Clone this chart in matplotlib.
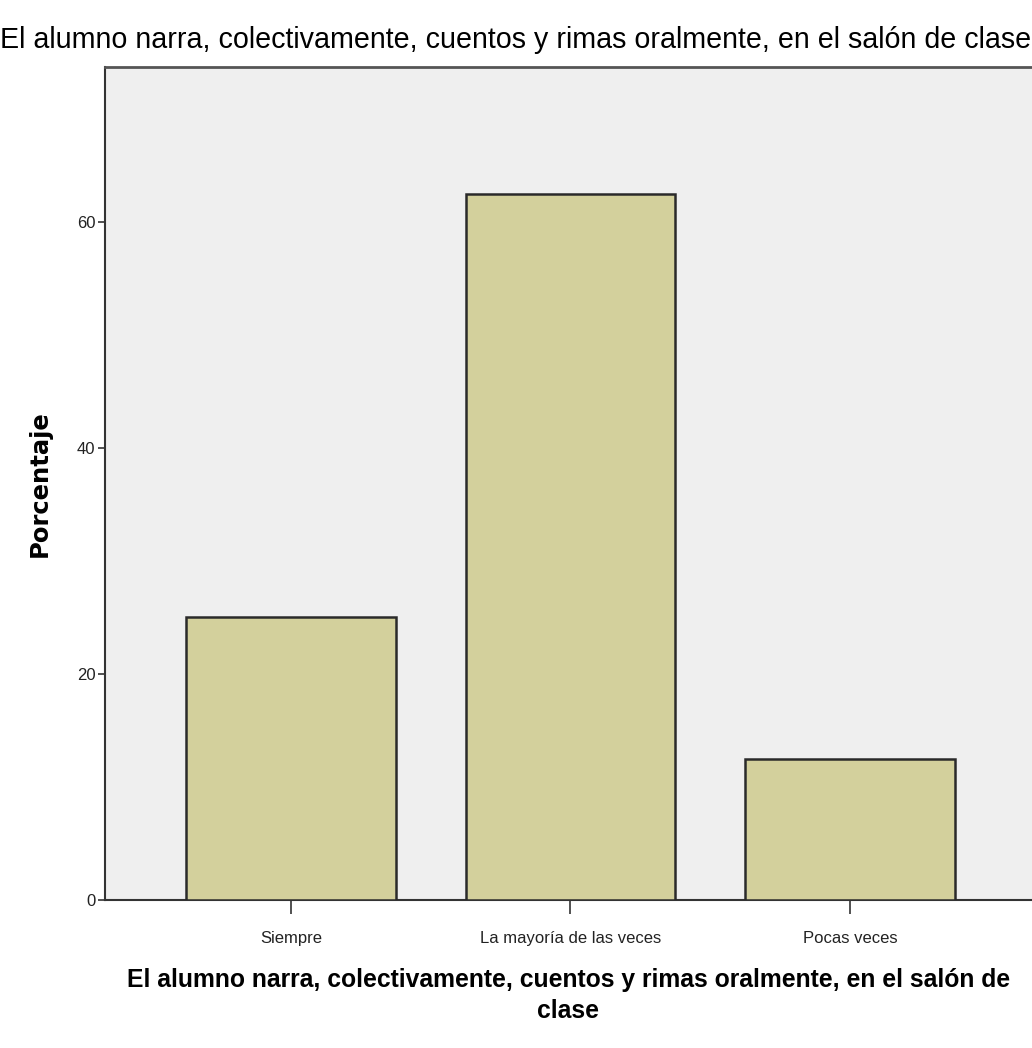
import matplotlib.pyplot as plt

# data
categorias = ['Siempre', 'La mayoría de las veces', 'Pocas veces']
porcentaje = [25.0, 62.5, 12.5]
yticks = [0, 20, 40, 60]
titulo = 'El alumno narra, colectivamente, cuentos y rimas oralmente, en el salón de clase'
xlabel = 'El alumno narra, colectivamente, cuentos y rimas oralmente, en el salón de\nclase'

narrow = ['Liberation Sans Narrow', 'Liberation Sans', 'DejaVu Sans']

fig = plt.figure(figsize=(10.32, 10.48), dpi=100)
ax = fig.add_axes([105 / 1032, 148 / 1048, 927 / 1032, 833 / 1048])
ax.set_facecolor('#efefef')

x = list(range(len(categorias)))
ax.bar(x, porcentaje, width=0.75, color='#d3d09c', edgecolor='#2a2a2a', linewidth=1.8, zorder=3)

ax.set_xlim(-0.665, 2.651)
ax.set_ylim(0, 73.7)
ax.set_yticks(yticks)
ax.set_yticklabels([str(t) for t in yticks], family=narrow, fontsize=12, color='#222222')
ax.set_xticks(x)
ax.set_xticklabels(categorias, family=narrow, fontsize=12, color='#222222')
ax.tick_params(axis='y', direction='out', length=5, width=1.2, color='#333333', pad=2)
ax.tick_params(axis='x', direction='out', length=10, width=1.2, color='#333333', pad=12)

for s in ['left', 'bottom']:
    ax.spines[s].set_color('#333333')
    ax.spines[s].set_linewidth(1.5)
ax.spines['top'].set_color('#555555')
ax.spines['top'].set_linewidth(2)
ax.spines['right'].set_visible(False)

ax.set_ylabel('Porcentaje', family='DejaVu Sans', fontweight='bold', fontsize=17.5, labelpad=18)
ax.set_xlabel(xlabel, family='Liberation Sans', fontweight='bold', fontsize=17.8, labelpad=16, linespacing=1.4)

fig.text(0.5, 1 - 40 / 1048, titulo, ha='center', va='center', family='Liberation Sans', fontsize=20.6, color='#000000')

fig.savefig('out.png', dpi=100, facecolor='white')
